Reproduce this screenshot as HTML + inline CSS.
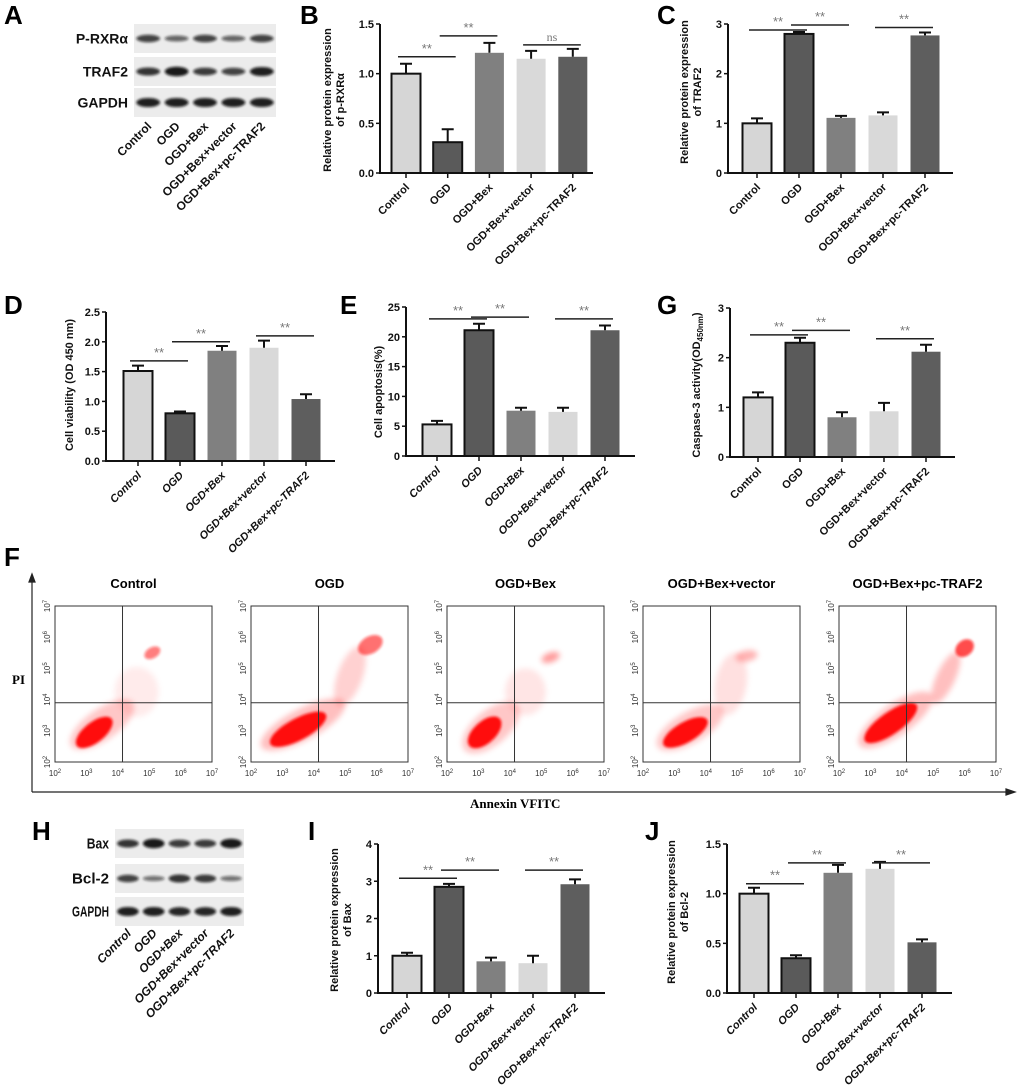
<!DOCTYPE html>
<html><head><meta charset="utf-8">
<style>
html,body{margin:0;padding:0;background:#fff;}
svg{display:block;font-family:"Liberation Sans",Arial,sans-serif;}
.tk{font-size:11px;font-weight:bold;fill:#111;}
.lt{font-size:26px;font-weight:bold;fill:#000;}
</style></head>
<body>
<svg id="fig" width="1020" height="1091" viewBox="0 0 1020 1091" xmlns="http://www.w3.org/2000/svg">
<defs>
<filter id="blur2" x="-50%" y="-50%" width="200%" height="200%"><feGaussianBlur stdDeviation="1.3"/></filter>
<filter id="blur1" x="-50%" y="-50%" width="200%" height="200%"><feGaussianBlur stdDeviation="1.2"/></filter>
<filter id="blur4" x="-50%" y="-50%" width="200%" height="200%"><feGaussianBlur stdDeviation="3"/></filter>
</defs>
<text class="lt" x="4" y="24">A</text>
<text class="lt" x="300" y="24">B</text>
<text class="lt" x="657" y="24">C</text>
<text class="lt" x="4" y="314">D</text>
<text class="lt" x="340" y="314">E</text>
<text class="lt" x="657" y="314">G</text>
<text class="lt" x="4" y="566">F</text>
<text class="lt" x="32" y="840">H</text>
<text class="lt" x="308" y="840">I</text>
<text class="lt" x="645" y="840">J</text>
</svg>
<script>
const NS='http://www.w3.org/2000/svg';
const fig=document.getElementById('fig');
function mk(tag,attrs,parent){const e=document.createElementNS(NS,tag);for(const k in attrs)e.setAttribute(k,attrs[k]);(parent||fig).appendChild(e);return e;}

const categories=['Control','OGD','OGD+Bex','OGD+Bex+vector','OGD+Bex+pc-TRAF2'];

// Panel B
const bValues=[1.0,0.31,1.21,1.15,1.17];
const bErrors=[0.1,0.13,0.1,0.08,0.08];
const bTicks=[0,0.5,1.0,1.5];
const bSigFrom=[0,1,3];const bSigTo=[1,2,4];const bSigY=[1.17,1.38,1.29];const bSigLabel=['**','**','ns'];
// Panel C
const cValues=[1.0,2.8,1.11,1.16,2.77];
const cErrors=[0.1,0.04,0.04,0.06,0.06];
const cTicks=[0,1,2,3];
const cSigFrom=[0,1,3];const cSigTo=[1,2,4];const cSigY=[2.88,2.98,2.93];const cSigLabel=['**','**','**'];
// Panel D
const dValues=[1.51,0.8,1.85,1.9,1.04];
const dErrors=[0.09,0.03,0.08,0.12,0.08];
const dTicks=[0,0.5,1.0,1.5,2.0,2.5];
const dSigFrom=[0,1,3];const dSigTo=[1,2,4];const dSigY=[1.68,2.0,2.1];const dSigLabel=['**','**','**'];
// Panel E
const eValues=[5.3,21.1,7.6,7.4,21.1];
const eErrors=[0.6,1.1,0.5,0.7,0.8];
const eTicks=[0,5,10,15,20,25];
const eSigFrom=[0,1,3];const eSigTo=[1,2,4];const eSigY=[23.0,23.3,23.0];const eSigLabel=['**','**','**'];
// Panel G
const gValues=[1.2,2.3,0.8,0.92,2.12];
const gErrors=[0.1,0.1,0.1,0.17,0.14];
const gTicks=[0,1,2,3];
const gSigFrom=[0,1,3];const gSigTo=[1,2,4];const gSigY=[2.46,2.55,2.38];const gSigLabel=['**','**','**'];
// Panel I
const iValues=[1.0,2.85,0.85,0.8,2.92];
const iErrors=[0.08,0.08,0.1,0.2,0.13];
const iTicks=[0,1,2,3,4];
const iSigFrom=[0,1,3];const iSigTo=[1,2,4];const iSigY=[3.08,3.3,3.3];const iSigLabel=['**','**','**'];
// Panel J
const jValues=[1.0,0.35,1.21,1.25,0.51];
const jErrors=[0.06,0.03,0.08,0.07,0.03];
const jTicks=[0,0.5,1.0,1.5];
const jSigFrom=[0,1,3];const jSigTo=[1,2,4];const jSigY=[1.1,1.31,1.31];const jSigLabel=['**','**','**'];

const barFills=['#d6d6d6','#5a5a5a','#808080','#d9d9d9','#5e5e5e'];
const barBorder=[true,true,false,false,false];

function barChart(id,cfg,values,errors,ticks,sf,st,sy,sl){
  const g=mk('g',{});
  
  
  const max=ticks[ticks.length-1];
  const yS=v=>cfg.y0-(v/max)*(cfg.y0-cfg.yTop);
  const xS=i=>cfg.x0+i*cfg.step;
  const bw=29;
  values.forEach((v,i)=>{
    const x=xS(i);
    const r=mk('rect',{x:x-bw/2,y:yS(v),width:bw,height:cfg.y0-yS(v),fill:barFills[i],stroke:barBorder[i]?'#111':'none','stroke-width':2},g);
    
    
    const e=mk('path',{d:`M${x},${yS(v)}V${yS(v+errors[i])}M${x-6},${yS(v+errors[i])}H${x+6}`,stroke:'#111','stroke-width':2,fill:'none'},g);
    
    
  });
  const ax=mk('path',{d:`M${cfg.ax},${cfg.yTop}V${cfg.y0}H${cfg.axEnd}`,stroke:'#111','stroke-width':2,fill:'none'},g);
  
  
  ticks.forEach(t=>{
    mk('line',{x1:cfg.ax-4,x2:cfg.ax,y1:yS(t),y2:yS(t),stroke:'#111','stroke-width':1.5},g);
    const tx=mk('text',{x:cfg.ax-6,y:yS(t)+4,'text-anchor':'end',class:'tk'},g);
    tx.textContent=cfg.fmt(t);
    
    
  });
  categories.forEach((c,i)=>{
    const x=xS(i);
    mk('line',{x1:x,x2:x,y1:cfg.y0,y2:cfg.y0+5,stroke:'#111','stroke-width':1.5},g);
    const tx=mk('text',{x:x+4,y:cfg.y0+15,'text-anchor':'end',class:'tk',transform:`rotate(-45 ${x+4} ${cfg.y0+15})`,'font-style':cfg.italic?'italic':'normal'},g);
    tx.textContent=c;
    
    
  });
  const tt=mk('text',{transform:`translate(${cfg.tx},${cfg.ty}) rotate(-90)`,'text-anchor':'middle',class:'tk'},g);
  
  
  cfg.title.forEach((line,k)=>{
    const ts=mk('tspan',{x:0,dy:k===0?0:13},tt);
    if(typeof line==='string')ts.textContent=line;
    else{ts.textContent=line[0];const sub=mk('tspan',{'font-size':'8',dy:3},tt);sub.textContent=line[1];const cl=mk('tspan',{dy:-3},tt);cl.textContent=line[2];}
  });
  sf.forEach((f,k)=>{
    const x1=xS(f)-8,x2=xS(st[k])+8,y=yS(sy[k]);
    const l=mk('line',{x1:x1,x2:x2,y1:y,y2:y,stroke:'#222','stroke-width':1.5},g);
    
    
    const t=mk('text',{x:(x1+x2)/2,y:y-4,'text-anchor':'middle','font-size':sl[k]==='ns'?12:13,fill:'#777','font-family':sl[k]==='ns'?'Liberation Serif, serif':'Liberation Sans, sans-serif'},g);
    t.textContent=sl[k];
    
    
  });
}
const f1=t=>t.toFixed(1), f0=t=>String(t);
barChart('panel-b',{ax:380,x0:406,step:41.7,y0:173,yTop:24,axEnd:593,fmt:f1,italic:false,title:['Relative protein expression','of p-RXRα'],tx:331,ty:100},bValues,bErrors,bTicks,bSigFrom,bSigTo,bSigY,bSigLabel);
barChart('panel-c',{ax:728,x0:757,step:42,y0:173,yTop:24,axEnd:953,fmt:f0,italic:false,title:['Relative protein expression','of TRAF2'],tx:688,ty:92},cValues,cErrors,cTicks,cSigFrom,cSigTo,cSigY,cSigLabel);
barChart('panel-d',{ax:106,x0:138,step:42,y0:461,yTop:312,axEnd:335,fmt:f1,italic:true,title:['Cell viability (OD 450 nm)'],tx:73,ty:385},dValues,dErrors,dTicks,dSigFrom,dSigTo,dSigY,dSigLabel);
barChart('panel-e',{ax:406,x0:437,step:42,y0:456,yTop:307,axEnd:635,fmt:f0,italic:true,title:['Cell apoptosis(%)'],tx:382,ty:392},eValues,eErrors,eTicks,eSigFrom,eSigTo,eSigY,eSigLabel);
barChart('panel-g',{ax:730,x0:758,step:42,y0:457,yTop:308,axEnd:955,fmt:f0,italic:false,title:[['Caspase-3 activity(OD','450nm',')']],tx:700,ty:385},gValues,gErrors,gTicks,gSigFrom,gSigTo,gSigY,gSigLabel);
barChart('panel-i',{ax:378,x0:407,step:42,y0:993,yTop:844,axEnd:605,fmt:f0,italic:true,title:['Relative protein expression','of Bax'],tx:338,ty:920},iValues,iErrors,iTicks,iSigFrom,iSigTo,iSigY,iSigLabel);
barChart('panel-j',{ax:727,x0:754,step:42,y0:993,yTop:844,axEnd:952,fmt:f1,italic:true,title:['Relative protein expression','of Bcl-2'],tx:675,ty:912},jValues,jErrors,jTicks,jSigFrom,jSigTo,jSigY,jSigLabel);

// Western blots
const aRows=['P-RXRα','TRAF2','GAPDH'];
const aIntensity=[[0.7,0.45,0.7,0.45,0.7],[0.8,1.0,0.75,0.7,0.95],[0.95,0.95,0.95,0.95,0.95]];
const hRows=['Bax','Bcl-2','GAPDH'];
const hIntensity=[[0.8,1.0,0.75,0.75,1.0],[0.7,0.35,0.8,0.75,0.35],[0.95,0.95,0.9,0.9,0.95]];
function blot(id,x,w,ys,h,rows,inten,lab,italic,condensed){
  const g=mk('g',{});
  
  
  const step=w/5;
  rows.forEach((r,k)=>{
    mk('rect',{x:x,y:ys[k],width:w,height:h,fill:'#ececec'},g);
    inten[k].forEach((v,i)=>{
      const cx=x+step*(i+0.5);
      const b=mk('ellipse',{cx:cx,cy:ys[k]+h/2,rx:step*0.42,ry:1.5+v*3.2,fill:'#111','fill-opacity':0.35+v*0.6,filter:'url(#blur1)'},g);
      
      
    });
    const t=mk('text',{x:x-6,y:ys[k]+h/2+5,'text-anchor':'end','font-size':condensed?15:14,'font-weight':'bold',fill:'#111'},g);
    if(condensed){t.setAttribute('textLength',r.length*7.4);t.setAttribute('lengthAdjust','spacingAndGlyphs');}
    t.textContent=r;
    
    
  });
  categories.forEach((c,i)=>{
    const cx=x+step*(i+0.5)+4, cy=lab;
    const t=mk('text',{x:cx,y:cy,'text-anchor':'end','font-size':12,'font-weight':'bold','font-style':italic?'italic':'normal',fill:'#111',transform:`rotate(-45 ${cx} ${cy})`},g);
    t.textContent=c;
    
    
  });
}
blot('blot-a',134,142,[24,57,88],29,aRows,aIntensity,127,false,false);
blot('blot-h',115,129,[829,864,897],29,hRows,hIntensity,934,true,true);

// Flow cytometry
const flowTitles=['Control','OGD','OGD+Bex','OGD+Bex+vector','OGD+Bex+pc-TRAF2'];
const flowDecades=['2','3','4','5','6','7'];
const flowClouds=[
 [[0.30,0.76,0.24,0.10,-35,0.22],[0.25,0.81,0.14,0.065,-38,1],[0.62,0.30,0.055,0.035,-30,0.55],[0.52,0.55,0.14,0.16,0,0.08]],
 [[0.33,0.76,0.30,0.10,-28,0.25],[0.30,0.79,0.20,0.07,-28,1],[0.76,0.25,0.085,0.055,-30,0.6],[0.63,0.45,0.08,0.2,20,0.18]],
 [[0.28,0.78,0.22,0.11,-40,0.22],[0.24,0.81,0.13,0.07,-42,1],[0.66,0.33,0.06,0.03,-20,0.4],[0.5,0.55,0.13,0.15,0,0.1]],
 [[0.30,0.78,0.24,0.10,-30,0.22],[0.27,0.81,0.16,0.065,-30,1],[0.66,0.32,0.07,0.035,-10,0.3],[0.56,0.5,0.1,0.2,10,0.12]],
 [[0.36,0.73,0.28,0.10,-35,0.25],[0.33,0.75,0.20,0.07,-35,1],[0.80,0.27,0.065,0.05,-40,0.75],[0.68,0.46,0.06,0.18,25,0.25]]
];
(function(){
  const fg=mk('g',{});
  
  
  const ya=mk('path',{d:'M32,792V577M29,582L32,574L35,582Z',stroke:'#222','stroke-width':1.2,fill:'#222'},fg);
  
  const xa=mk('path',{d:'M32,792H1012M1006,789L1015,792L1006,795Z',stroke:'#222','stroke-width':1.2,fill:'#222'},fg);
  
  const pl=mk('text',{x:12,y:684,'font-size':13,'font-weight':'bold','font-family':'Liberation Serif, serif'},fg);
  pl.textContent='PI';
  const al=mk('text',{x:470,y:808,'font-size':13,'font-weight':'bold','font-family':'Liberation Serif, serif'},fg);
  al.textContent='Annexin  VFITC';
  flowTitles.forEach((t,p)=>{
    const x=55+p*196,y=606,w=157,h=156;
    const g=mk('g',{},fg);
    
    
    const tt=mk('text',{x:x+w/2,y:588,'text-anchor':'middle','font-size':13,'font-weight':'bold'},g);
    tt.textContent=t;
    flowClouds[p].forEach(c=>{
      const cx=x+c[0]*w,cy=y+c[1]*h;
      mk('ellipse',{cx:cx,cy:cy,rx:c[2]*w,ry:c[3]*h,fill:'#ff1010','fill-opacity':c[5],transform:`rotate(${c[4]} ${cx} ${cy})`,filter:c[5]>0.5?'url(#blur2)':'url(#blur4)'},g);
    });
    mk('rect',{x:x,y:y,width:w,height:h,fill:'none',stroke:'#333','stroke-width':1},g);
    mk('line',{x1:x+0.43*w,x2:x+0.43*w,y1:y,y2:y+h,stroke:'#333','stroke-width':1},g);
    mk('line',{x1:x,x2:x+w,y1:y+0.62*h,y2:y+0.62*h,stroke:'#333','stroke-width':1},g);
    flowDecades.forEach((d,k)=>{
      const tx=x+k*w/5;
      const lx=mk('text',{x:tx,y:y+h+14,'text-anchor':'middle','font-size':8,fill:'#333'},g);
      lx.textContent='10';const s=mk('tspan',{dy:-3,'font-size':6},lx);s.textContent=d;
      const ty=y+h-k*h/5;
      const ly=mk('text',{x:0,y:0,'text-anchor':'middle','font-size':8,fill:'#333',transform:`translate(${x-5},${ty}) rotate(-90)`},g);
      ly.textContent='10';const s2=mk('tspan',{dy:-3,'font-size':6},ly);s2.textContent=d;
    });
  });
})();
</script>
</body></html>
